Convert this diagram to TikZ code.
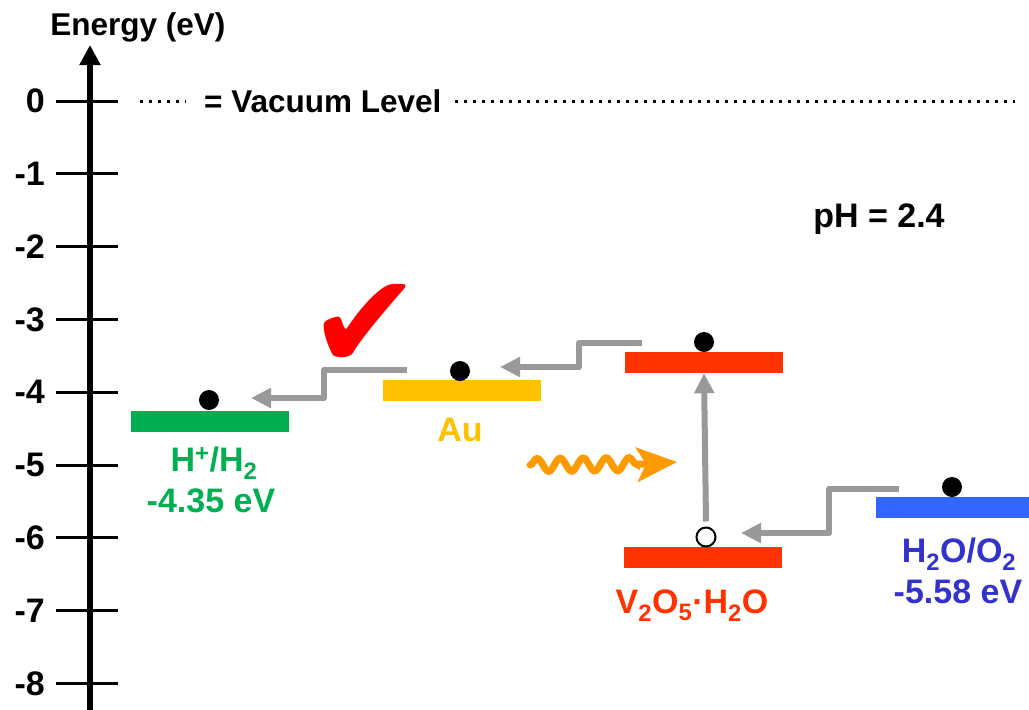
\documentclass[tikz,border=0pt]{standalone}
\usepackage{fontspec}
\setmainfont{Liberation Sans}
\newfontfamily\symfont{DejaVu Sans}
\usetikzlibrary{arrows.meta,decorations.pathmorphing}
\definecolor{hgreen}{HTML}{00B050}
\definecolor{augold}{HTML}{FFC000}
\definecolor{vred}{HTML}{FF3300}
\definecolor{oblue}{HTML}{3366FF}
\definecolor{otext}{HTML}{3333CC}
\definecolor{lgray}{HTML}{999999}
\definecolor{worange}{HTML}{FF9900}
\begin{document}
\begin{tikzpicture}[x=1pt,y=-1pt,
  every node/.style={font=\bfseries\fontsize{34}{40}\selectfont,inner sep=0pt},
  small/.style={font=\bfseries\fontsize{31.5}{38}\selectfont},
  bar/.style={fill=#1,minimum height=21pt},
  dot/.style={circle,fill=black,minimum size=20pt},
  hole/.style={circle,draw=black,line width=2pt,fill=white,minimum size=19pt},
  tick/.style={line width=3pt},
  vac/.style={line width=3pt,dash pattern=on 3pt off 6pt},
  flow/.style={draw=lgray,line width=6pt,line join=round,-{Triangle[length=20pt,width=19pt]}},
  wave/.style={draw=worange,line width=7pt,line cap=round,decorate,
    decoration={snake,amplitude=6.5pt,segment length=23pt,post length=4pt}},
  wavehead/.style={draw=worange,line width=7pt,line cap=round,
    -{Stealth[length=40pt,width=34pt,inset=9pt]}}]
\useasboundingbox (0,0) rectangle (1029,710);
% energy axis
\coordinate (ax0) at (90,712);
\coordinate (ax1) at (90,45);
\draw[line width=6pt,-{Triangle[length=20pt,width=20pt]}] (ax0) -- (ax1);
\node[small,anchor=base] (elabel) at (138,35) {Energy (eV)};
\foreach \k/\lab in {0/0,1/-1,2/-2,3/-3,4/-4,5/-5,6/-6,7/-7,8/-8}{
  \pgfmathsetmacro\yy{101+72.8*\k}
  \draw[tick] (56,\yy) -- (118,\yy);
  \node[anchor=east] (t\k) at (45,\yy) {\lab};
}
% vacuum level
\node[small,anchor=west] (vlabel) at (204,101) {= Vacuum Level};
\draw[vac] (140,101) -- (186,101);
\draw[vac] (455,101) -- (1015,101);
\node[anchor=base] (ph) at (879,227) {pH = 2.4};
% levels
\node[bar=hgreen,minimum width=158pt] (hbar) at (210,421) {};
\node[bar=augold,minimum width=158pt] (aubar) at (462,390.5) {};
\node[bar=vred,minimum width=158pt] (cbbar) at (704,362.5) {};
\node[bar=vred,minimum width=158pt] (vbbar) at (703,557.5) {};
\node[bar=oblue,minimum width=160pt] (obar) at (956,507) {};
% electrons and hole
\node[dot] (e1) at (209,400) {};
\node[dot] (e2) at (460,371) {};
\node[dot] (e3) at (704,342) {};
\node[dot] (e4) at (952,487) {};
\node[hole] (h1) at (706,537) {};
% labels
\node[anchor=base,text=hgreen] (hlab) at (214,471) {H\textsuperscript{+}/H\textsubscript{2}};
\node[anchor=base,text=hgreen] (hval) at (211,512) {-4.35 eV};
\node[anchor=base,text=augold] (aulab) at (460,441) {Au};
\node[anchor=base,text=vred] (vlab) at (692,613) {V\textsubscript{2}O\textsubscript{5}·H\textsubscript{2}O};
\node[anchor=base,text=otext] (olab) at (959,562) {H\textsubscript{2}O/O\textsubscript{2}};
\node[anchor=base,text=otext] (oval) at (958,603) {-5.58 eV};
\node[text=red,font=\symfont\fontsize{135}{135}\selectfont] (ok) at (365,327) {✔};
% transfer paths
\coordinate (auout) at (407,370);
\coordinate (hin) at (251,398);
\draw[flow] (auout) -- ++(-83,0) |- (hin);
\coordinate (cbout) at (642,343);
\coordinate (auin) at (500,367);
\draw[flow] (cbout) -- ++(-63,0) |- (auin);
\coordinate (oout) at (899,489);
\coordinate (vbin) at (741,533);
\draw[flow] (oout) -- ++(-70,0) |- (vbin);
\draw[flow] ([yshift=5pt]h1.north) -- (cbbar.south);
% light
\coordinate (w0) at (530,465);
\coordinate (wm) at (647,464);
\coordinate (w1) at (677,462);
\draw[wave] (w0) -- (wm);
\draw[wavehead] (wm) -- (w1);
\end{tikzpicture}
\end{document}
